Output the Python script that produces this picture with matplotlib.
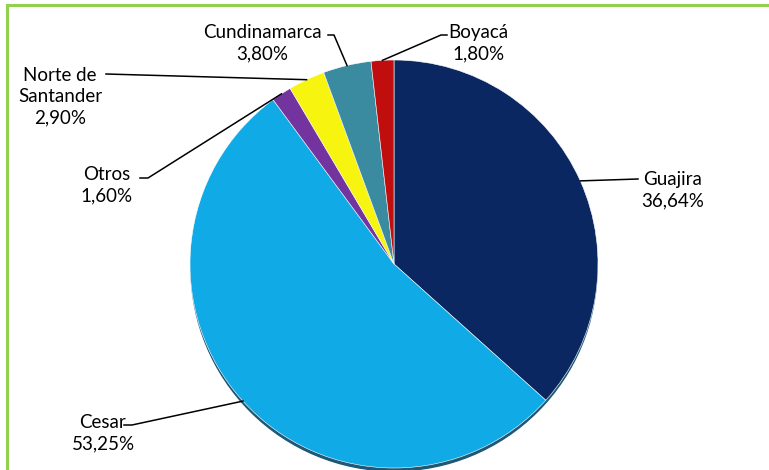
import numpy as np
import matplotlib as mpl
mpl.use('Agg')
import matplotlib.pyplot as plt
from matplotlib.patches import Rectangle, Circle

# departments, clockwise from 12 o'clock
labels = ['Guajira', 'Cesar', 'Otros', 'Norte de\nSantander', 'Cundinamarca', 'Boyacá']
shares = [36.64, 53.25, 1.60, 2.90, 3.80, 1.80]
colors = ['#0b2761', '#10aae6', '#7434a0', '#f7f510', '#3a8aa0', '#c00d0d']

# label anchor (pixels, top-left origin), leader elbow and tail length
label_pos = [(673, 190), (103, 433), (107, 185), (60, 97), (262, 43), (478, 43)]
elbow = [(638, 179), (132, 425), (148, 178), (106, 74), (334, 35), (441, 35)]
tails = [0, 8, 8, 0, 6, 6]

W, H = 769, 470
cx, cy, r = 394, 264, 204

plt.rcParams['font.family'] = ['Lato', 'DejaVu Sans']

fig = plt.figure(figsize=(W / 100, H / 100), dpi=100)
ax = fig.add_axes([0, 0, 1, 1])

def py(y):
    return H - y

# green frame (only top and left edges visible)
ax.add_patch(Rectangle((7, py(5) - 600), 900, 600, fill=False, edgecolor='#92d050', lw=2.2))

# shadow under pie
ax.add_patch(Circle((cx, py(cy) - 4), r - 1, color='#1d5876', zorder=1))

wedges, _ = ax.pie(shares, colors=colors, startangle=90, counterclock=False,
                   center=(cx, py(cy)), radius=r, frame=True,
                   wedgeprops=dict(edgecolor='white', linewidth=0.4))
for w in wedges:
    w.set_zorder(2)
ax.set_xlim(0, W)
ax.set_ylim(0, H)
ax.set_aspect('equal')
ax.axis('off')

for i, w in enumerate(wedges):
    ang = np.deg2rad((w.theta1 + w.theta2) / 2)
    x0 = cx + r * np.cos(ang)
    y0 = py(cy) + r * np.sin(ang)
    ex, ey = elbow[i]
    tail = ex + tails[i] if ex > cx else ex - tails[i]
    ax.plot([tail, ex, x0], [py(ey), py(ey), y0], color='black', lw=1.1, zorder=3)
    pct = f'{shares[i]:.2f}'.replace('.', ',') + '%'
    lx, ly = label_pos[i]
    ax.text(lx, py(ly), labels[i] + '\n' + pct, ha='center', va='center',
            fontsize=13.5, linespacing=1.3, color='black', zorder=4)

fig.savefig('out.png', dpi=100)
